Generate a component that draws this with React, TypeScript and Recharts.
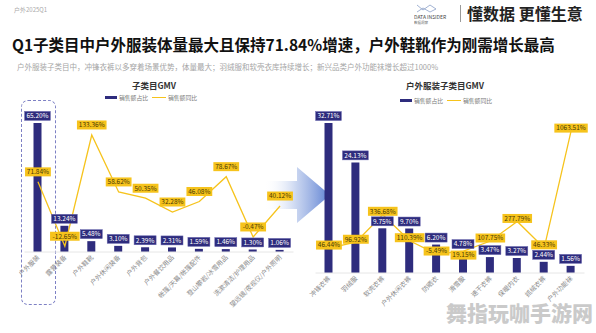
import React from 'react';
import { ComposedChart, Bar, Line, XAxis, YAxis, LabelList } from 'recharts';

const FONT = '"Noto Sans CJK SC", "Noto Sans", sans-serif';
const NAVY = '#2e2c7d';
const GOLD = '#f6c31c';

// 子类目GMV
const leftCategories = [
  '户外服装', '露营装备', '户外鞋靴', '户外休闲装备', '户外背包',
  '户外餐饮用品', '帐篷/天幕/帐篷配件', '登山攀岩/冰雪用品', '洗漱清洁/护理用品', '望远镜/夜视仪/户外照明',
];
const leftShare = [65.2, 13.24, 5.48, 3.1, 2.39, 2.31, 1.59, 1.46, 1.3, 1.06];
const leftYoy = [71.84, -12.65, 133.36, 58.62, 50.35, 32.28, 46.08, 78.67, -0.47, 40.12];

// 户外服装子类目GMV
const rightCategories = [
  '冲锋衣裤', '羽绒服', '软壳衣裤', '户外休闲衣裤', '防晒衣',
  '滑雪服', '速干衣裤', '保暖内衣', '抓绒衣裤', '户外功能袜',
];
const rightShare = [32.71, 24.13, 9.75, 9.7, 6.2, 4.78, 3.47, 3.27, 2.44, 1.56];
const rightYoy = [46.44, 96.92, 336.68, 110.39, -5.49, 19.15, 107.75, 277.79, 46.33, 1063.51];

const legendNames = ['销售额占比', '销售额同比'];

type Row = { name: string; share: number; yoy: number };

const toRows = (cats: string[], share: number[], yoy: number[]): Row[] =>
  cats.map((name, i) => ({ name, share: share[i], yoy: yoy[i] }));

const pct = (v: number) => `${v.toFixed(2)}%`;

const boxW = (s: string) => s.length * 3.8 + 3;

const BarTag = (props: any) => {
  const { x, y, width, value } = props;
  const s = pct(value);
  const w = boxW(s);
  const cx = x + width / 2;
  const cy = y - 7;
  return (
    <g>
      <rect x={cx - w / 2} y={cy - 4.5} width={w} height={9} fill={NAVY} stroke="#6a68b0" strokeWidth={0.5} />
      <text x={cx} y={cy + 2.3} textAnchor="middle" fontSize={6.5} fill="#fff" fontFamily={FONT}>{s}</text>
    </g>
  );
};

// line tags sit above the point; if that collides with the bar tag, push it clear of it
const lineTag = (lift: number, barTagY: (i: number) => number) => (props: any) => {
  const { x, y, value, index } = props;
  const s = pct(value);
  const w = boxW(s);
  let cy = y - lift;
  const by = barTagY(index);
  if (Math.abs(cy - by) < 10) cy = cy <= by ? by - 10 : by + 11;
  return (
    <g>
      <rect x={x - w / 2} y={cy - 4.5} width={w} height={9} fill={GOLD} />
      <text x={x} y={cy + 2.3} textAnchor="middle" fontSize={6.5} fill="#4a3a05" fontFamily={FONT}>{s}</text>
    </g>
  );
};

const SlantTick = (props: any) => {
  const { x, y, payload } = props;
  return (
    <g transform={`translate(${x + 2},${y - 2})`}>
      <text textAnchor="end" transform="rotate(-45)" fontSize={6.5} fill="#8a8a8a" fontFamily={FONT}>
        {payload.value}
      </text>
    </g>
  );
};

type PanelProps = {
  rows: Row[];
  left: number;
  margin: { top: number; right: number; bottom: number; left: number };
  axisH: number;
  barMax: number;
  lineDomain: [number, number];
  lift: number;
};

const Panel = ({ rows, left, margin, axisH, barMax, lineDomain, lift }: PanelProps) => {
  const bottom = 333 - axisH - margin.bottom;
  const plotH = bottom - margin.top;
  const barTagY = (i: number) => bottom - (rows[i].share / barMax) * plotH - 7;
  return (
    <div style={{ position: 'absolute', left, top: 0 }}>
      <ComposedChart width={300} height={333} data={rows} margin={margin}>
        <XAxis dataKey="name" interval={0} height={axisH} tickLine={false}
          axisLine={{ stroke: '#e6e6e6' }} tick={<SlantTick />} />
        <YAxis yAxisId="bar" hide domain={[0, barMax]} allowDataOverflow />
        <YAxis yAxisId="line" hide domain={lineDomain} allowDataOverflow />
        <Bar yAxisId="bar" dataKey="share" fill={NAVY} barSize={8} isAnimationActive={false}>
          <LabelList dataKey="share" content={<BarTag />} />
        </Bar>
        <Line yAxisId="line" dataKey="yoy" type="linear" stroke={GOLD} strokeWidth={1.3}
          dot={false} isAnimationActive={false}>
          <LabelList dataKey="yoy" content={lineTag(lift, barTagY)} />
        </Line>
      </ComposedChart>
    </div>
  );
};

const Legend = ({ x, y }: { x: number; y: number }) => (
  <div style={{ position: 'absolute', left: x, top: y, display: 'flex', alignItems: 'center',
    fontSize: 5.8, color: '#777', lineHeight: '7px', whiteSpace: 'nowrap' }}>
    <span style={{ width: 12, height: 3, background: NAVY, marginRight: 2 }} />
    <span>{legendNames[0]}</span>
    <span style={{ width: 14, height: 1.3, background: GOLD, margin: '0 2px 0 4px' }} />
    <span>{legendNames[1]}</span>
  </div>
);

export default function App() {
  const leftRows = toRows(leftCategories, leftShare, leftYoy);
  const rightRows = toRows(rightCategories, rightShare, rightYoy);
  return (
    <div style={{ position: 'fixed', left: 0, top: 0, width: 596, height: 333, background: '#fff',
      overflow: 'hidden', fontFamily: FONT }}>
      {/* header */}
      <div style={{ position: 'absolute', left: 14, top: 5, fontSize: 6, color: '#aaa' }}>户外2025Q1</div>
      <svg style={{ position: 'absolute', left: 414, top: 2 }} width={44} height={24}>
        <path d="M3 3 L9 8 L16 3 L22 7 L16 10 L9 6 L3 10" fill="none" stroke="#8aa0c8" strokeWidth={0.8} />
        <text x={0} y={17} fontSize={5} fill="#444" fontFamily={FONT}>DATA INSIDER</text>
        <text x={0} y={22} fontSize={3.5} fill="#666" fontFamily={FONT}>数据洞察</text>
      </svg>
      <div style={{ position: 'absolute', left: 460, top: 5, width: 1, height: 17, background: '#9a9a9a' }} />
      <div style={{ position: 'absolute', left: 467, top: 4, fontSize: 16, fontWeight: 700, color: '#222',
        lineHeight: '18px', whiteSpace: 'nowrap' }}>懂数据 更懂生意</div>
      <div style={{ position: 'absolute', left: 12, top: 36, fontSize: 15.5, fontWeight: 700, color: '#111',
        lineHeight: '17px', whiteSpace: 'nowrap' }}>
        Q1子类目中户外服装体量最大且保持71.84%增速，户外鞋靴作为刚需增长最高
      </div>
      <div style={{ position: 'absolute', left: 17, top: 62, fontSize: 7.5, color: '#a5a5a5',
        lineHeight: '9px', whiteSpace: 'nowrap' }}>
        户外服装子类目中，冲锋衣裤以多穿着场景优势，体量最大；羽绒服和软壳衣库持续增长；新兴品类户外功能袜增长超过1000%
      </div>

      {/* arrow between panels */}
      <svg style={{ position: 'absolute', left: 0, top: 0 }} width={596} height={333}>
        <defs>
          <linearGradient id="arr" x1="0" y1="0" x2="1" y2="0">
            <stop offset="0" stopColor="#ffffff" stopOpacity={0} />
            <stop offset="0.5" stopColor="#b9c9ec" stopOpacity={0.8} />
            <stop offset="1" stopColor="#5d80d2" />
          </linearGradient>
        </defs>
        <polygon points="264,181 297,181 297,167 330,195 297,223 297,209 264,209" fill="url(#arr)" />
      </svg>

      {/* dashed highlight */}
      <div style={{ position: 'absolute', left: 21, top: 100, width: 33, height: 203,
        border: '1px dashed #7d80c4', borderRadius: 7 }} />

      <div style={{ position: 'absolute', left: 104, top: 80, width: 100, textAlign: 'center', fontSize: 8.5,
        fontWeight: 700, color: '#333', lineHeight: '10px' }}>子类目GMV</div>
      <Legend x={105} y={94} />
      <div style={{ position: 'absolute', left: 395, top: 80, width: 100, textAlign: 'center', fontSize: 8.5,
        fontWeight: 700, color: '#333', lineHeight: '10px' }}>户外服装子类目GMV</div>
      <Legend x={400} y={97} />

      <Panel rows={leftRows} left={0} margin={{ top: 113, right: 6.5, bottom: 0, left: 24.5 }}
        axisH={81} barMax={70.2} lineDomain={[-20.2, 162.2]} lift={10} />
      <Panel rows={rightRows} left={296} margin={{ top: 113, right: 11.5, bottom: 0, left: 19.5 }}
        axisH={60} barMax={34.9} lineDomain={[-170.4, 1220.9]} lift={3} />

      <div style={{ position: 'absolute', left: 446, top: 300, fontSize: 21, fontWeight: 900,
        color: 'rgba(185,185,185,0.75)', lineHeight: '24px', whiteSpace: 'nowrap' }}>舞指玩咖手游网</div>
    </div>
  );
}
